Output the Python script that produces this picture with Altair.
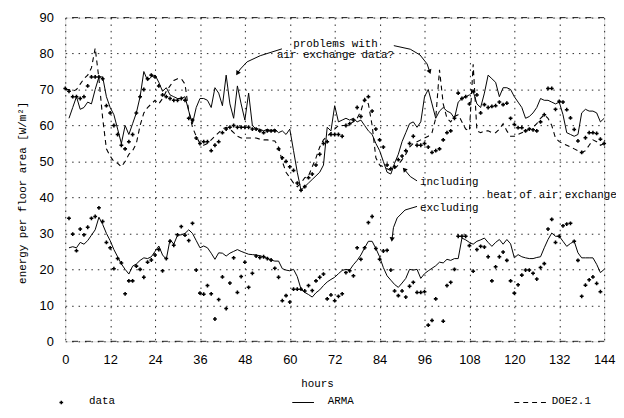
import altair as alt
import pandas as pd

# ---------------- data ----------------
hours = list(range(0, 145))

# upper group: including heat of air exchange
incl_data = [70.3, 69.5, 68, 68, 67.5, 68, 71, 73.5, 73.5, 73.5, 73, 65.5, 63.5, 60, 57.5, 54.5,
             53.5, 55.5, 57.5, 63.5, 68, 70, 73, 74, 73.5, 71, 68.5, 68, 67.5, 67, 67, 67.5,
             67, 62, 61.5, 56.5, 55, 55.5, 55.5, 53, 54.5, 55.5, 58, 59, 59.5, 60, 59.5, 59.5,
             59.5, 59.5, 59, 59, 58.5, 58, 58.5, 58.5, 58.5, 53.5, 51, 50, 48.5, 47.5, 44, 42,
             43, 45.5, 46.5, 49, 52, 55, 55.5, 57.5, 57.5, 57.5, 57, 60, 60.5, 61.5, 65, 62.5,
             67, 68, 64, 59, 56, 54, 49, 48, 48.5, 50.5, 51.5, 53, 55, 57, 54.5, 54.5,
             55, 54, 52.5, 53, 53.5, 56, 58, 58.5, 62, 69, 67.5, 68, 66, 69.5, 68.5, 63.5,
             65.8, 65, 65.3, 65.5, 66.5, 65.8, 66.2, 62, 60.3, 59.4, 59.4, 58.5, 59, 58.8, 58.5, 61,
             63, 70.3, 70.3, 64.5, 66.7, 66.5, 64.4, 62.1, 58.9, 55.7, 52.5, 56.6, 58, 58, 57.8, 56.2,
             55]

incl_arma_hours = list(range(1, 145))
incl_arma = [62, 65, 68, 64.5, 65, 66.5, 66, 70, 73.5, 73.5, 68, 65, 63, 59, 55, 60,
             57.5, 60.5, 63.5, 68, 75, 72.5, 73.5, 74, 72, 69.5, 70.5, 68.5, 68, 67.5, 67.5, 68,
             64, 60.5, 65, 67.5, 67.5, 67, 65, 70.5, 69, 65.5, 74, 66, 62, 71, 66, 61.5,
             69, 60, 59, 59, 58.5, 59, 58.5, 59, 58, 58.5, 57.5, 59, 53, 47, 42, 43,
             44, 45, 46, 47, 49, 59.5, 58.5, 65.5, 61, 61.5, 62, 61.5, 62, 61, 61.5, 60,
             58.5, 57.5, 55, 53, 50, 47, 46.5, 49.5, 52, 55.5, 58, 60.5, 61, 59.5, 61, 68,
             70, 66, 62, 64, 65, 64, 63.5, 62, 66.5, 67.5, 68, 68.5, 69.5, 66, 65, 69,
             74, 73, 72, 68, 70.5, 70.5, 70, 68, 66.5, 65, 62, 62.5, 63.5, 65, 67.5, 67,
             67, 66.5, 66, 66.5, 63, 58, 57.5, 57, 57.5, 63.5, 64.5, 64, 64, 63.5, 61, 62]

incl_doe = [70, 70, 69.5, 70, 71.5, 73, 74, 76, 81.5, 73, 62, 53.5, 51.5, 50, 49.5, 48.5,
            50, 52, 53, 55, 60, 63.5, 65, 66, 67, 66, 67.5, 69.5, 71, 72.5, 73, 73,
            71.5, 64, 59.5, 57, 55, 54.5, 55, 56, 57, 58, 59, 59.5, 59, 58, 57, 56.5,
            56.5, 56.5, 56.5, 56.5, 56.2, 56, 56, 55.8, 55.7, 54, 50, 47, 45.5, 44, 43, 44,
            45.5, 46, 48.5, 51, 54, 56, 57, 58, 59, 60, 60, 60, 60.5, 61, 62, 64,
            67.5, 66, 60, 51, 49, 48.5, 48, 47.5, 48, 49, 50.5, 52, 54, 55, 55.5, 56,
            56.5, 57, 58, 62, 75.5, 66, 62, 61, 62.5, 63, 61, 59, 58.5, 77, 58.5, 58,
            58.5, 58.5, 58, 58, 59, 60.5, 58.5, 57, 57, 57.5, 58, 58.5, 59, 59.5, 60.5, 62,
            63, 62, 60, 56.5, 55.5, 55, 54.5, 54, 53.5, 53, 52.5, 53, 54.5, 56, 55.5, 54.5,
            55]

# lower group: excluding heat of air exchange
excl_data_hours = [h for h in range(1, 144) if h != 100]
excl_data = [34.2, 29.8, 25.2, 31.2, 29.6, 31.7, 34.2, 34.7, 37.1, 33.3, 27.5, 26, 20.2, 23, 21.8, 13.2,
             16.8, 16.8, 20.9, 20, 17.8, 22, 22.6, 24, 25.5, 19.6, 23, 27.8, 26.7, 29.6, 31.9, 29.5,
             28, 32.8, 19.8, 13.4, 13.1, 15.5, 13.2, 6.2, 11.6, 17.9, 9.1, 16.2, 23.2, 13.6, 18, 22,
             15, 18.9, 23.7, 23.3, 23.5, 23, 22.6, 20.3, 17.8, 11.3, 12.7, 10.9, 14.5, 14.5, 14.5, 14,
             15.5, 14.1, 16.8, 17.8, 18.7, 11.8, 12.9, 11.3, 12.5, 13.2, 19.1, 19.6, 18.2, 26, 22.8, 26,
             33, 34.7, 25.8, 22.8, 25.1, 25.3, 19.8, 14, 12.7, 14, 12.3, 15.3, 16.4, 13.6, 13.6, 13.8,
             4.5, 5.8, 11.8, 5.6, 15.5, 16.4, 20, 29.2, 29.2, 29.2, 26.6, 19.5, 25.5, 26.4, 26.2,
             23.5, 16.8, 20.7, 23.5, 24.8, 22.5, 16.8, 13.4, 15.7, 18.4, 19.8, 19.8, 18.9, 17.3, 20.5, 21.6,
             31.2, 33.9, 27.5, 29.2, 32.1, 32.6, 32.8, 27.8, 22.5, 12.5, 15.6, 17.1, 17.9, 16.1, 13.8]

excl_arma_hours = list(range(1, 145))
excl_arma = [26, 26.3, 26, 27.5, 27, 28, 29.5, 31, 34.5, 32.5, 30, 28, 25.5, 23.5, 21.5, 20,
             18.7, 20.9, 21.5, 22.5, 23.2, 23, 23.5, 25, 26.5, 24, 22.8, 28.3, 27, 29.5, 29.6, 30,
             31, 30, 28, 26, 26.5, 26, 24.5, 22.8, 24.6, 24.5, 23.7, 24.5, 25, 25.5, 25, 24.6,
             24.2, 24.1, 24, 23.8, 23.5, 23, 22.6, 22.3, 22.3, 20.2, 19.8, 19.6, 20, 18, 14.5, 13.6,
             13, 12.3, 13.5, 14.3, 15.5, 16.5, 17.2, 17.8, 18.8, 19.7, 20, 19.8, 21.3, 22.5, 24, 26,
             27.8, 27.8, 25.8, 23.5, 20.5, 18.2, 17, 15.8, 15, 16.2, 17.5, 20, 19.8, 20, 17.5, 18.8,
             19.6, 20.3, 21, 22, 21.8, 22.8, 22.5, 23, 23, 28.7, 28.2, 27.5, 27, 27.8, 28.2, 28.7,
             27.5, 26.4, 27.5, 28.3, 27, 28.3, 27.1, 23.2, 24.1, 23.5, 23.2, 23, 23, 23.3, 23.5, 26,
             28.3, 30.1, 29.2, 29.2, 27.8, 26.4, 27.2, 27.8, 24.6, 23.2, 23.2, 23.2, 23.2, 21.4, 19.1, 20]

x_ticks = list(range(0, 145, 12))
y_ticks = list(range(0, 91, 10))
frame_values = [0, 90]

# annotation texts (placed in data coordinates)
note_text = ["problems with", "air exchange data?", "including", "heat of air exchange", "excluding"]
note_h = [72.2, 72.2, 94.8, 112.6, 94.8]
note_v = [82.7, 79.5, 44.3, 40.6, 37.0]
note_align = ["center", "center", "left", "left", "left"]

# annotation arrows (curved paths, data coordinates)
arrow_id = [1] * 5 + [2] * 5 + [3] * 3 + [4] * 5
arrow_h = [57.9, 52.1, 48.6, 46.8, 46.0,
           87.8, 92.2, 94.8, 96.7, 97.4,
           94.0, 92.2, 90.6,
           94.0, 90.8, 88.7, 87.7, 87.3]
arrow_v = [81.3, 79.4, 77.7, 75.7, 74.5,
           82.2, 81.2, 79.6, 77.1, 74.9,
           44.6, 45.8, 47.8,
           37.5, 36.5, 34.3, 31.6, 28.3]
head_h = [46.0, 97.4, 90.6, 87.3]
head_v = [74.5, 74.9, 47.8, 28.3]
head_angle = [212, 159, 319, 186]

# ---------------- tables ----------------
pts = pd.concat([
    pd.DataFrame({"hour": hours, "value": incl_data, "grp": "incl"}),
    pd.DataFrame({"hour": excl_data_hours, "value": excl_data, "grp": "excl"}),
])
arma = pd.concat([
    pd.DataFrame({"hour": incl_arma_hours, "value": incl_arma, "grp": "incl"}),
    pd.DataFrame({"hour": excl_arma_hours, "value": excl_arma, "grp": "excl"}),
])
doe = pd.DataFrame({"hour": hours, "value": incl_doe})
notes = pd.DataFrame({"hour": note_h, "value": note_v, "text": note_text, "al": note_align})
arrows = pd.DataFrame({"hour": arrow_h, "value": arrow_v, "aid": arrow_id,
                       "ord": list(range(len(arrow_h)))})
heads = pd.DataFrame({"hour": head_h, "value": head_v, "ang": head_angle})
frame = pd.DataFrame({"value": frame_values})

MONO = "Liberation Mono"

xs = alt.Scale(domain=[0, 144], nice=False, zero=False)
ys = alt.Scale(domain=[0, 90], nice=False)

x_axis = alt.Axis(values=x_ticks, title="hours", grid=True, gridDash=[1.5, 5], gridColor="#000",
                  gridOpacity=0.85, domain=False, ticks=False, labelPadding=12, labelOverlap=False,
                  labelFont="Liberation Sans", labelFontSize=13, labelColor="#000",
                  titleFont=MONO, titleFontSize=11, titleFontWeight="normal", titleColor="#000",
                  titleX=255, titleY=37)
y_axis = alt.Axis(values=y_ticks, tickCount=10, title="energy per floor area [W/m²]", grid=True,
                  gridDash=[1.5, 5], gridColor="#000", gridOpacity=0.85, domain=False, ticks=False,
                  labelPadding=12, labelOverlap=False, labelFlush=False, labelBound=False,
                  labelFont="Liberation Sans", labelFontSize=13, labelColor="#000",
                  titleFont=MONO, titleFontSize=11, titleFontWeight="normal", titleColor="#000",
                  titleX=-43, titleY=177, titleBaseline="middle")

doe_line = alt.Chart(doe).mark_line(color="#000", strokeWidth=1.1, strokeDash=[5, 4]).encode(
    x=alt.X("hour:Q", scale=xs, axis=x_axis),
    y=alt.Y("value:Q", scale=ys, axis=y_axis),
)

frame_rules = alt.Chart(frame).mark_rule(color="#000", strokeWidth=1, strokeDash=[6, 7],
                                         opacity=0.85).encode(
    y=alt.Y("value:Q", scale=ys),
)

arma_line = alt.Chart(arma).mark_line(color="#000", strokeWidth=1).encode(
    x=alt.X("hour:Q", scale=xs),
    y=alt.Y("value:Q", scale=ys),
    detail="grp:N",
)

dots = alt.Chart(pts).mark_point(shape="cross", filled=True, color="#000", size=15, opacity=1).encode(
    x=alt.X("hour:Q", scale=xs),
    y=alt.Y("value:Q", scale=ys),
)

note_layers = []
for al in ["center", "left"]:
    note_layers.append(
        alt.Chart(notes[notes["al"] == al]).mark_text(
            font=MONO, fontSize=11, color="#000", align=al, baseline="middle").encode(
            x=alt.X("hour:Q", scale=xs), y=alt.Y("value:Q", scale=ys), text="text:N")
    )

arrow_lines = alt.Chart(arrows).mark_line(color="#000", strokeWidth=1).encode(
    x=alt.X("hour:Q", scale=xs),
    y=alt.Y("value:Q", scale=ys),
    detail="aid:N",
    order="ord:Q",
)
arrow_heads = alt.Chart(heads).mark_point(shape="triangle-up", filled=True, color="#000",
                                          size=28, opacity=1).encode(
    x=alt.X("hour:Q", scale=xs),
    y=alt.Y("value:Q", scale=ys),
    angle=alt.Angle("ang:Q", scale=None),
)

# ---------------- legend below the plot ----------------
leg_y = 389
leg_df = pd.DataFrame({"k": [0]})
leg_point = alt.Chart(leg_df).mark_point(shape="cross", filled=True, color="#000", size=14,
                                         opacity=1).encode(x=alt.value(-4), y=alt.value(leg_y + 1))
leg_txt = []
for label, px in [("data", 24), ("ARMA", 266), ("DOE2.1", 493)]:
    leg_txt.append(alt.Chart(leg_df).mark_text(font=MONO, fontSize=11, color="#000", align="left",
                                               baseline="middle").encode(
        x=alt.value(px), y=alt.value(leg_y), text=alt.value(label)))
leg_arma = alt.Chart(leg_df).mark_rule(color="#000", strokeWidth=1).encode(
    x=alt.value(230), x2=alt.value(252), y=alt.value(leg_y + 1))
leg_doe = alt.Chart(leg_df).mark_rule(color="#000", strokeWidth=1.1, strokeDash=[5, 4]).encode(
    x=alt.value(455), x2=alt.value(488), y=alt.value(leg_y + 1))

chart = alt.layer(
    doe_line, frame_rules, arma_line, dots, *note_layers, arrow_lines, arrow_heads,
    leg_point, *leg_txt, leg_arma, leg_doe,
).properties(
    width=546, height=328,
    autosize=alt.AutoSizeParams(type="none"),
    padding={"left": 58, "top": 7, "right": 12, "bottom": 75},
).configure_view(stroke=None).configure(background="white").configure_axis(
    labelOverlap=False, labelFlush=False
)

chart.save("out.html", embed_options={"renderer": "svg", "actions": False})
